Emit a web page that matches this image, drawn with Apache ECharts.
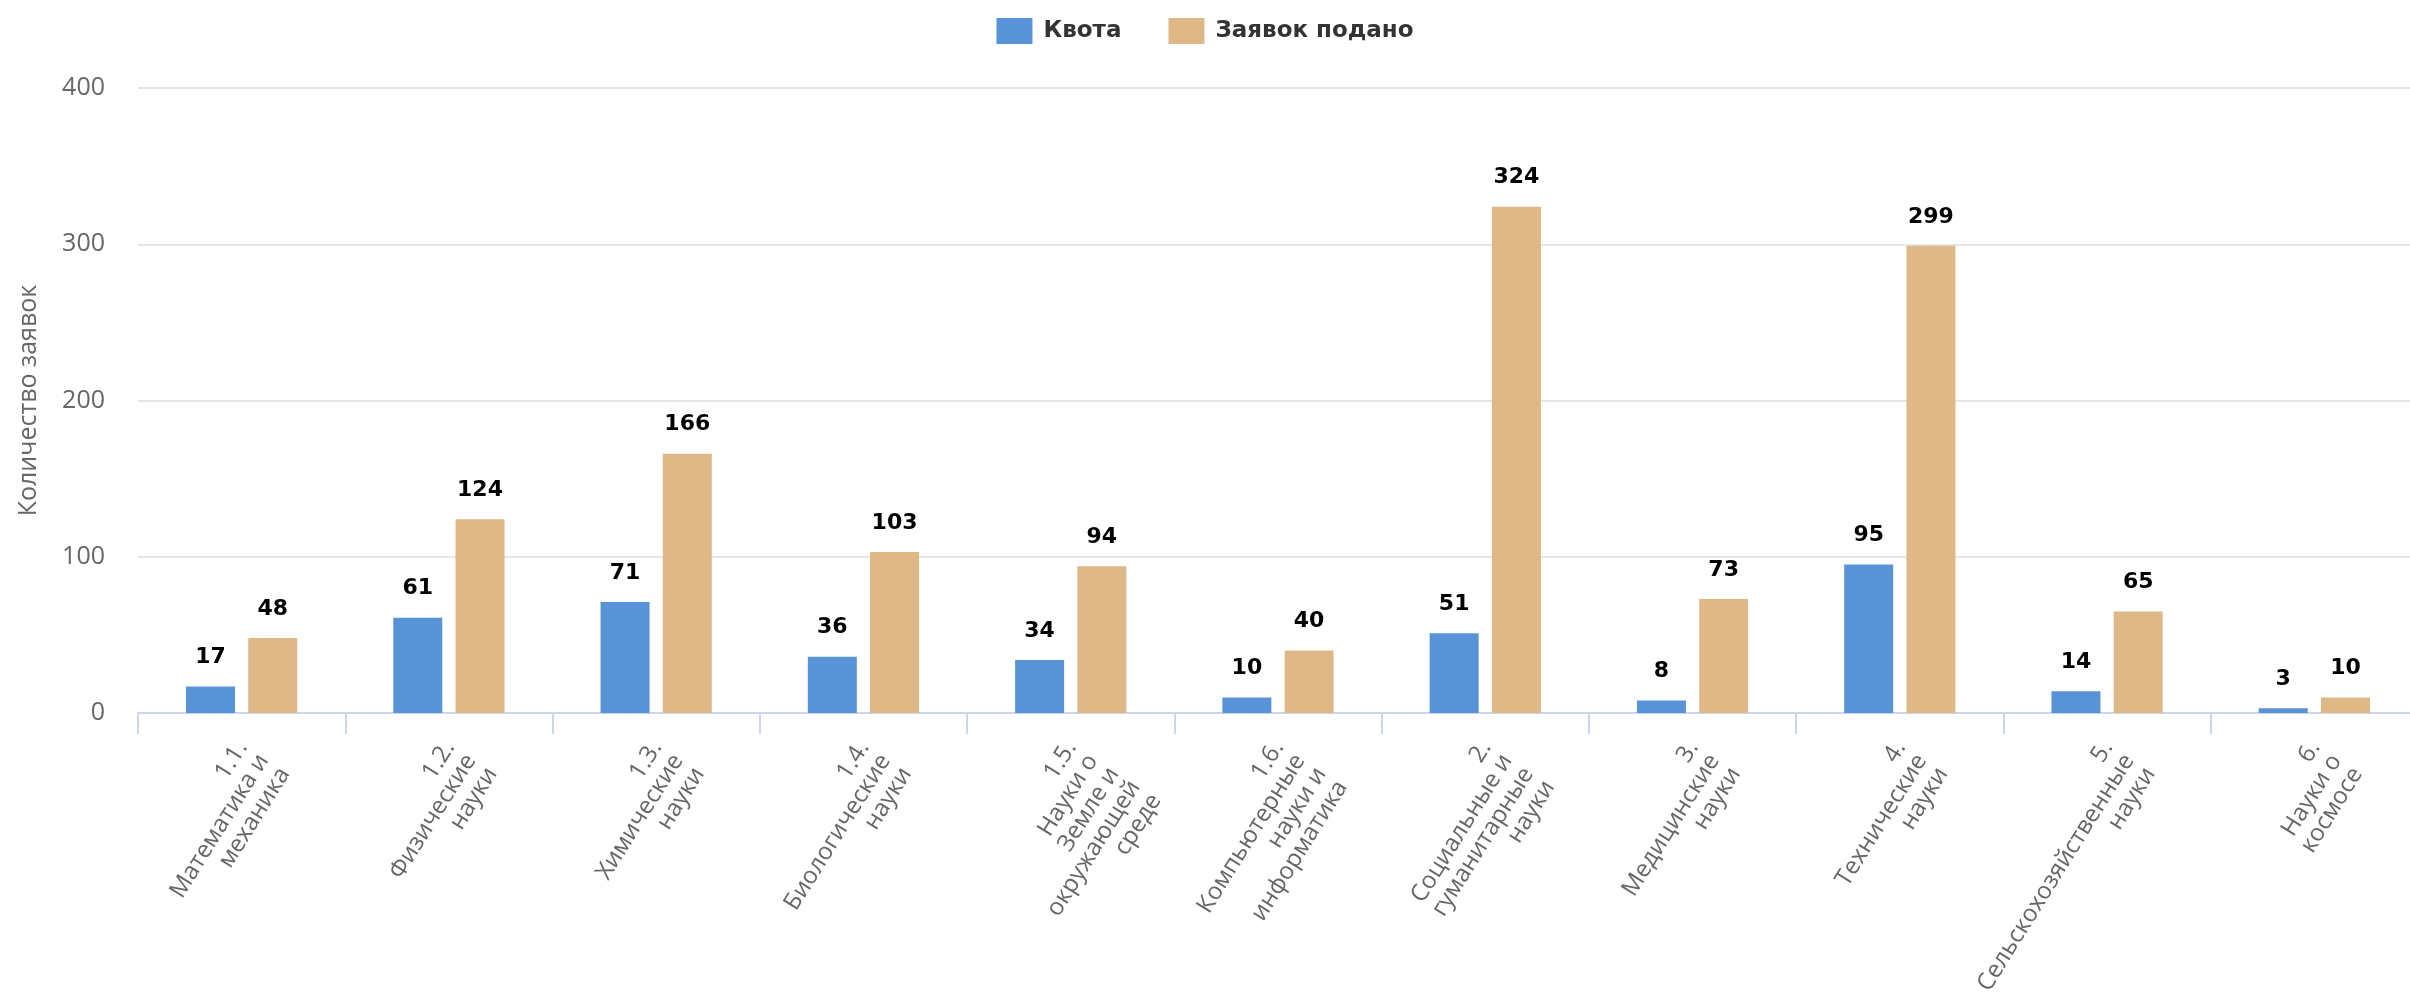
<!DOCTYPE html>
<html>
<head>
<meta charset="utf-8">
<script src="https://cdn.jsdelivr.net/npm/echarts@6/dist/echarts.min.js"></script>
<style>
html,body{margin:0;padding:0;background:#fff;}
#chart{width:2410px;height:994px;}
</style>
</head>
<body>
<div id="chart"></div>
<script>
const categories = [
  "1.1.\nМатематика и\nмеханика",
  "1.2.\nФизические\nнауки",
  "1.3.\nХимические\nнауки",
  "1.4.\nБиологические\nнауки",
  "1.5.\nНауки о\nЗемле и\nокружающей\nсреде",
  "1.6.\nКомпьютерные\nнауки и\nинформатика",
  "2.\nСоциальные и\nгуманитарные\nнауки",
  "3.\nМедицинские\nнауки",
  "4.\nТехнические\nнауки",
  "5.\nСельскохозяйственные\nнауки",
  "6.\nНауки о\nкосмосе"
];
const quota = [17, 61, 71, 36, 34, 10, 51, 8, 95, 14, 3];
const applications = [48, 124, 166, 103, 94, 40, 324, 73, 299, 65, 10];
const seriesNames = ["Квота", "Заявок подано"];
const yTicks = { min: 0, max: 400, interval: 100 };
const yAxisTitle = "Количество заявок";

const chart = echarts.init(document.getElementById('chart'), null, {renderer: 'canvas'});
const valueLabel = {
  show: true,
  position: 'top',
  distance: 18,
  color: '#000',
  fontFamily: 'DejaVu Sans',
  fontWeight: 'bold',
  fontSize: 22
};
chart.setOption({
  animation: false,
  backgroundColor: '#fff',
  legend: {
    top: 13,
    left: 'center',
    itemWidth: 36,
    itemHeight: 26,
    itemGap: 47,
    icon: 'rect',
    textStyle: {
      fontFamily: 'DejaVu Sans',
      fontWeight: 'bold',
      fontSize: 23,
      color: '#333',
      padding: [0, 0, 0, 6]
    },
    data: seriesNames
  },
  grid: {
    left: 138,
    right: -8,
    top: 88,
    bottom: 281,
    containLabel: false,
    outerBoundsMode: 'none'
  },
  xAxis: {
    type: 'category',
    data: categories,
    boundaryGap: true,
    axisLine: { show: true, lineStyle: { color: '#ccd6eb', width: 2 } },
    axisTick: { show: true, length: 21, alignWithLabel: false, lineStyle: { color: '#ccd6eb', width: 2 } },
    axisLabel: {
      interval: 0,
      rotate: 58,
      margin: 30,
      align: 'right',
      verticalAlign: 'top',
      padding: [-12, 0, 0, 0],
      fontFamily: 'Open Sans',
      fontSize: 24,
      lineHeight: 25,
      color: '#666'
    },
    splitLine: { show: false }
  },
  yAxis: {
    type: 'value',
    min: yTicks.min,
    max: yTicks.max,
    interval: yTicks.interval,
    name: yAxisTitle,
    nameLocation: 'middle',
    nameGap: 97,
    nameTextStyle: { fontFamily: 'Open Sans', fontSize: 25, color: '#666' },
    axisLine: { show: false },
    axisTick: { show: false },
    axisLabel: { margin: 33, fontFamily: 'Open Sans', fontSize: 25, color: '#666' },
    splitLine: { show: true, lineStyle: { color: '#e6e6e6', width: 2 } }
  },
  series: [
    {
      name: seriesNames[0],
      type: 'bar',
      data: quota,
      barWidth: 49,
      barGap: '27%',
      itemStyle: { color: '#5893d8' },
      label: valueLabel
    },
    {
      name: seriesNames[1],
      type: 'bar',
      data: applications,
      barWidth: 49,
      barGap: '27%',
      itemStyle: { color: '#deb887' },
      label: valueLabel
    }
  ]
});
</script>
</body>
</html>
